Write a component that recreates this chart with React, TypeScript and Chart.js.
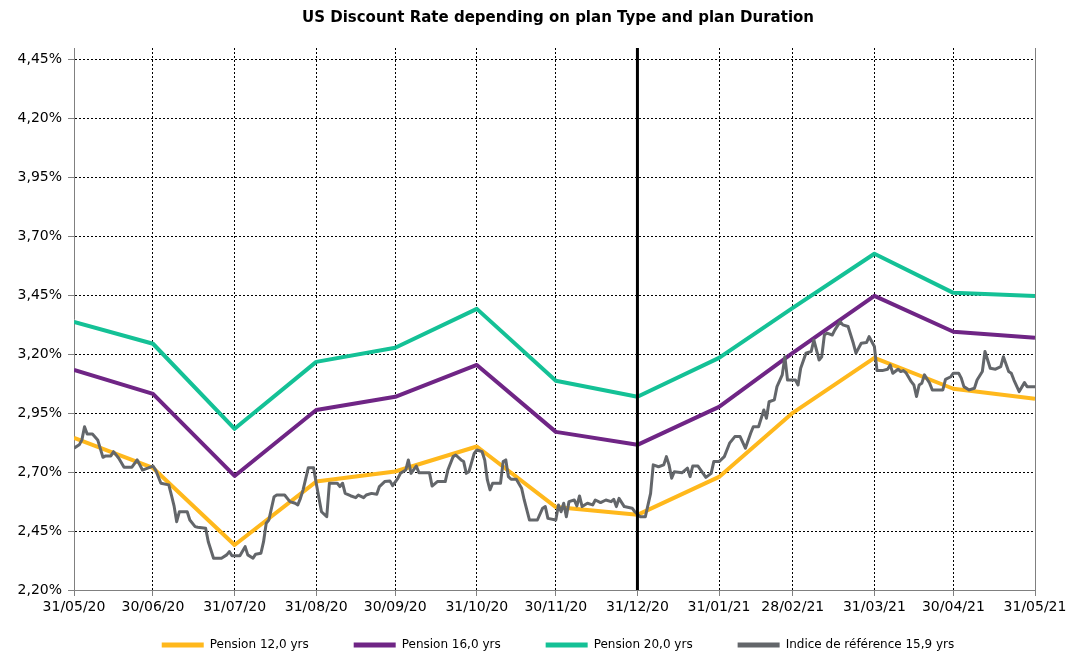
import React, { useEffect, useRef } from 'react';
import { Chart, registerables } from 'chart.js';

Chart.register(...registerables);

// Month-end dates, as day offsets from 31/05/20
const tickDays = [0, 30, 61, 92, 122, 153, 183, 214, 245, 273, 304, 334, 365];
const tickLabels = ['31/05/20', '30/06/20', '31/07/20', '31/08/20', '30/09/20', '31/10/20', '30/11/20', '31/12/20', '31/01/21', '28/02/21', '31/03/21', '30/04/21', '31/05/21'];

// Discount rates (%) at month ends
const pension12 = [2.846, 2.718, 2.391, 2.660, 2.703, 2.809, 2.552, 2.519, 2.680, 2.952, 3.185, 3.054, 3.011];
const pension16 = [3.134, 3.032, 2.684, 2.964, 3.020, 3.155, 2.871, 2.816, 2.977, 3.206, 3.448, 3.296, 3.270];
const pension20 = [3.338, 3.245, 2.884, 3.168, 3.228, 3.393, 3.088, 3.020, 3.185, 3.397, 3.627, 3.461, 3.448];

// Reference index 15.9 yrs (day offset, %)
const indexDays = [0, 2, 3, 4, 5, 7, 9, 11, 12, 14, 15, 17, 19, 22, 24, 26, 28, 30, 31, 33, 36, 37, 38, 39, 40, 43, 44, 46, 47, 50, 51, 53, 56, 58, 59, 60, 63, 65, 66, 68, 69, 71, 72, 73, 74, 76, 77, 80, 82, 84, 85, 86, 87, 89, 91, 92, 94, 96, 97, 100, 101, 102, 103, 105, 107, 108, 110, 111, 113, 115, 116, 118, 120, 121, 123, 124, 126, 127, 128, 130, 131, 135, 136, 138, 141, 142, 144, 145, 147, 148, 149, 150, 152, 153, 155, 156, 157, 158, 159, 162, 163, 164, 165, 166, 168, 170, 171, 173, 176, 178, 179, 180, 183, 184, 185, 186, 187, 188, 190, 191, 192, 193, 195, 197, 198, 200, 202, 204, 205, 206, 207, 209, 212, 213, 215, 217, 219, 220, 222, 224, 225, 226, 227, 228, 231, 233, 234, 235, 237, 240, 242, 243, 245, 247, 249, 251, 253, 255, 257, 258, 260, 262, 263, 264, 266, 267, 269, 270, 271, 274, 275, 276, 278, 280, 281, 283, 284, 285, 286, 288, 289, 291, 292, 294, 296, 297, 299, 301, 302, 304, 305, 307, 309, 310, 311, 313, 314, 315, 316, 318, 319, 320, 321, 322, 323, 325, 326, 330, 331, 333, 334, 336, 337, 338, 340, 342, 343, 345, 346, 348, 350, 352, 353, 355, 356, 357, 359, 361, 362, 365];
const indexValues = [2.802, 2.816, 2.837, 2.893, 2.862, 2.862, 2.837, 2.763, 2.769, 2.769, 2.787, 2.759, 2.721, 2.721, 2.752, 2.709, 2.717, 2.726, 2.709, 2.653, 2.646, 2.603, 2.557, 2.490, 2.532, 2.532, 2.497, 2.469, 2.466, 2.462, 2.405, 2.335, 2.335, 2.349, 2.363, 2.345, 2.345, 2.384, 2.349, 2.335, 2.352, 2.356, 2.405, 2.483, 2.497, 2.596, 2.603, 2.603, 2.575, 2.568, 2.561, 2.589, 2.625, 2.719, 2.719, 2.653, 2.532, 2.511, 2.653, 2.653, 2.639, 2.653, 2.610, 2.600, 2.592, 2.603, 2.592, 2.603, 2.610, 2.606, 2.639, 2.660, 2.663, 2.643, 2.674, 2.695, 2.709, 2.752, 2.695, 2.726, 2.698, 2.698, 2.641, 2.660, 2.660, 2.709, 2.766, 2.773, 2.752, 2.745, 2.695, 2.702, 2.780, 2.794, 2.787, 2.752, 2.667, 2.625, 2.653, 2.653, 2.745, 2.752, 2.681, 2.670, 2.670, 2.632, 2.582, 2.497, 2.497, 2.547, 2.554, 2.504, 2.497, 2.561, 2.532, 2.568, 2.511, 2.575, 2.582, 2.557, 2.599, 2.554, 2.568, 2.561, 2.582, 2.571, 2.582, 2.575, 2.585, 2.554, 2.589, 2.554, 2.547, 2.532, 2.511, 2.511, 2.610, 2.731, 2.723, 2.731, 2.766, 2.731, 2.674, 2.702, 2.698, 2.717, 2.681, 2.726, 2.726, 2.678, 2.695, 2.745, 2.745, 2.766, 2.823, 2.851, 2.851, 2.802, 2.865, 2.893, 2.893, 2.964, 2.929, 2.999, 3.007, 3.063, 3.113, 3.190, 3.091, 3.091, 3.070, 3.141, 3.205, 3.212, 3.261, 3.176, 3.190, 3.282, 3.290, 3.282, 3.304, 3.339, 3.325, 3.318, 3.247, 3.205, 3.247, 3.250, 3.275, 3.233, 3.131, 3.131, 3.137, 3.155, 3.120, 3.137, 3.127, 3.131, 3.122, 3.084, 3.070, 3.021, 3.070, 3.077, 3.113, 3.077, 3.049, 3.049, 3.094, 3.105, 3.120, 3.120, 3.099, 3.063, 3.049, 3.056, 3.091, 3.127, 3.212, 3.141, 3.137, 3.148, 3.190, 3.127, 3.120, 3.091, 3.042, 3.080, 3.063, 3.063];

// Year-end marker (31/12/20)
const yearEndDay = 214;

const yTicks = [2.2, 2.45, 2.7, 2.95, 3.2, 3.45, 3.7, 3.95, 4.2, 4.45];
const yMin = 2.2;
const yMax = 4.5;

const FONT = 'DejaVu Sans';
const ORANGE = '#FFB81C';
const PURPLE = '#6F2585';
const GREEN = '#14C196';
const GREY = '#63666A';
const AXIS = '#808080';

const toPoints = (days: number[], vals: number[]) => days.map((d, i) => ({ x: d, y: vals[i] }));

export default function App() {
  const ref = useRef<HTMLCanvasElement | null>(null);

  useEffect(() => {
    if (!ref.current) return;
    const lastX = tickDays.length - 1;
    const noLabelClip = (s: any) => { s._computeLabelArea = () => undefined; };
    const chart = new Chart(ref.current, {
      type: 'line',
      data: {
        datasets: [
          { label: 'Pension 12,0 yrs', data: toPoints(tickDays, pension12), borderColor: ORANGE, backgroundColor: ORANGE, borderWidth: 4, pointRadius: 0, order: 3 },
          { label: 'Pension 16,0 yrs', data: toPoints(tickDays, pension16), borderColor: PURPLE, backgroundColor: PURPLE, borderWidth: 4, pointRadius: 0, order: 2 },
          { label: 'Pension 20,0 yrs', data: toPoints(tickDays, pension20), borderColor: GREEN, backgroundColor: GREEN, borderWidth: 4, pointRadius: 0, order: 1 },
          { label: 'Indice de référence 15,9 yrs', data: toPoints(indexDays, indexValues), borderColor: GREY, backgroundColor: GREY, borderWidth: 3, pointRadius: 0, order: 0 },
          { label: 'yearEnd', data: [{ x: yearEndDay, y: yMin }, { x: yearEndDay, y: yMax }], borderColor: '#000', backgroundColor: '#000', borderWidth: 3, pointRadius: 0, order: -1 },
        ],
      },
      options: {
        responsive: false,
        animation: false,
        events: [],
        layout: { padding: { left: 47, right: 0, top: 0, bottom: -5 } },
        elements: { line: { borderJoinStyle: 'round', borderCapStyle: 'butt', tension: 0 } },
        scales: {
          x: {
            type: 'linear',
            min: 0,
            max: 365,
            afterBuildTicks: (s: any) => { s.ticks = tickDays.map((v) => ({ value: v })); },
            afterFit: (s: any) => { s.height = 4; s.paddingLeft = 0; s.paddingRight = 34; noLabelClip(s); },
            ticks: {
              autoSkip: false,
              maxRotation: 0,
              minRotation: 0,
              padding: 3,
              color: '#000',
              font: { family: FONT, size: 14 },
              callback: (_v: any, i: number) => tickLabels[i],
            },
            grid: {
              color: (c: any) => (c.index === 0 ? 'rgba(0,0,0,0)' : c.index === lastX ? AXIS : '#000'),
              lineWidth: 1,
              tickColor: AXIS,
              tickLength: 6,
              tickBorderDash: [],
            },
            border: { color: AXIS, width: 1, dash: (c: any) => (c.index === lastX ? [] : [2, 2]) },
          },
          y: {
            min: yMin,
            max: yMax,
            afterBuildTicks: (s: any) => { s.ticks = yTicks.map((v) => ({ value: v })); },
            afterFit: (s: any) => { s.width = 27; noLabelClip(s); },
            ticks: {
              padding: 6,
              color: '#000',
              font: { family: FONT, size: 14 },
              callback: (v: any) => Number(v).toFixed(2).replace('.', ',') + '%',
            },
            grid: {
              color: (c: any) => (c.index === 0 ? 'rgba(0,0,0,0)' : '#000'),
              lineWidth: 1,
              tickColor: AXIS,
              tickLength: 6,
              tickBorderDash: [],
            },
            border: { color: AXIS, width: 1, dash: [2, 2] },
          },
        },
        plugins: {
          title: {
            display: true,
            text: 'US Discount Rate depending on plan Type and plan Duration',
            color: '#000',
            font: { family: FONT, size: 15, weight: 'bold' },
            padding: { top: 9, bottom: 21 },
          },
          legend: {
            position: 'bottom',
            labels: {
              color: '#000',
              font: { family: FONT, size: 12 },
              boxWidth: 42,
              boxHeight: 5,
              padding: 45,
              generateLabels: (ch: any) =>
                Chart.defaults.plugins.legend.labels
                  .generateLabels(ch)
                  .filter((l: any) => l.datasetIndex < 4)
                  .sort((a: any, b: any) => a.datasetIndex - b.datasetIndex)
                  .map((l: any) => ({ ...l, fillStyle: l.strokeStyle, lineWidth: 0 })),
            },
          },
          tooltip: { enabled: false },
        },
      } as any,
    });
    return () => chart.destroy();
  }, []);

  return (
    <div style={{ position: 'fixed', left: 0, top: 0, width: 1069, height: 656, background: '#fff' }}>
      <canvas ref={ref} width={1069} height={656} style={{ display: 'block' }} />
    </div>
  );
}
